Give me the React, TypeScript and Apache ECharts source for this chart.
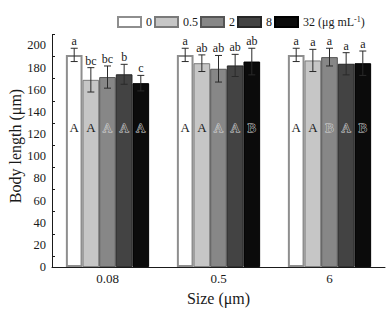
import React, { useEffect, useRef } from "react";
import * as echarts from "echarts";

const categories = ["0.08", "0.5", "6"];
const seriesNames = ["0", "0.5", "2", "8", "32"];

const mean0 = [191.5, 191.5, 191.5];
const mean05 = [169, 184, 186.5];
const mean2 = [171.5, 179, 189.5];
const mean8 = [174, 182, 183.5];
const mean32 = [166, 185.5, 184];

const err0 = [6, 6, 6];
const err05 = [11, 7.5, 10];
const err2 = [10, 12, 8];
const err8 = [9, 10, 10];
const err32 = [7, 12, 11];

const sig0 = ["a", "a", "a"];
const sig05 = ["bc", "ab", "a"];
const sig2 = ["bc", "ab", "a"];
const sig8 = ["b", "ab", "a"];
const sig32 = ["c", "ab", "a"];

const inner0 = ["A", "A", "A"];
const inner05 = ["A", "A", "A"];
const inner2 = ["A", "A", "B"];
const inner8 = ["A", "A", "A"];
const inner32 = ["A", "B", "B"];

const innerLevel = 126;

const yLabelValues = [0, 20, 40, 60, 80, 100, 120, 140, 160, 180, 200];
const yTickValues = [10, 30, 50, 70, 90, 110, 130, 150, 170, 190, 210];

const yTitle = "Body length (μm)";
const xTitle = "Size (μm)";

const means = [mean0, mean05, mean2, mean8, mean32];
const errs = [err0, err05, err2, err8, err32];
const sigs = [sig0, sig05, sig2, sig8, sig32];
const inners = [inner0, inner05, inner2, inner8, inner32];

const fills = ["#ffffff", "#c6c6c6", "#878787", "#434343", "#0b0b0b"];
const borders = ["#8e8e8e", "#7a7a7a", "#555555", "#262626", "#000000"];
const borderWidths = [2, 1, 1, 1, 1];

const FONT = "'Liberation Serif', 'Times New Roman', serif";
const INK = "#1a1a1a";
const CAT_GAP = 0.25;

export default function App() {
  const ref = useRef<HTMLDivElement>(null);

  useEffect(() => {
    if (!ref.current) return;
    const chart = echarts.init(ref.current, undefined, { renderer: "svg" });

    const barSeries = seriesNames.map((name, s) => ({
      name,
      type: "bar",
      data: means[s],
      barGap: "0%",
      barCategoryGap: CAT_GAP * 100 + "%",
      itemStyle: {
        color: fills[s],
        borderColor: borders[s],
        borderWidth: borderWidths[s],
      },
      z: 2,
    }));

    const customSeries = seriesNames.map((name, s) => ({
      type: "custom",
      name: "eb" + s,
      itemStyle: { color: INK },
      data: categories.map((c, i) => [i, means[s][i], errs[s][i]]),
      z: 5,
      renderItem: (params: any, api: any) => {
        const idx = api.value(0);
        const m = api.value(1);
        const e = api.value(2);
        const band = api.size([1, 0])[0];
        const barW = (band * (1 - CAT_GAP)) / 5;
        const c = api.coord([idx, m]);
        const x = c[0] + (s - 2) * barW;
        const top = api.coord([idx, m + e])[1];
        const bot = api.coord([idx, m - e])[1];
        const inY = api.coord([idx, innerLevel])[1];
        const cap = 3.5;
        const lineStyle = { stroke: "#2a2a2a", lineWidth: 1 };
        const light = s >= 2;
        return {
          type: "group",
          children: [
            { type: "line", shape: { x1: x, y1: top, x2: x, y2: bot }, style: lineStyle },
            { type: "line", shape: { x1: x - cap, y1: top, x2: x + cap, y2: top }, style: lineStyle },
            { type: "line", shape: { x1: x - cap, y1: bot, x2: x + cap, y2: bot }, style: lineStyle },
            {
              type: "text",
              x,
              y: top - 1,
              style: {
                text: sigs[s][params.dataIndex],
                fontFamily: FONT,
                fontSize: 12,
                fill: INK,
                align: "center",
                verticalAlign: "bottom",
              },
            },
            {
              type: "text",
              x,
              y: inY,
              style: {
                text: inners[s][params.dataIndex],
                fontFamily: FONT,
                fontSize: 13,
                fill: light ? fills[s] : INK,
                stroke: light ? "#d8d8d8" : undefined,
                lineWidth: light ? 0.8 : 0,
                align: "center",
                verticalAlign: "middle",
              },
            },
          ],
        };
      },
    }));

    chart.setOption({
      animation: false,
      backgroundColor: "#ffffff",
      textStyle: { fontFamily: FONT },
      grid: { left: 52, right: 7, top: 34.4, bottom: 40, containLabel: false },
      legend: {
        data: seriesNames,
        left: 112,
        top: 10,
        itemWidth: 23,
        itemHeight: 10,
        itemGap: 2,
        icon: "rect",
        selectedMode: false,
        formatter: (n: string) => (n === "32" ? "32 (μg mL{sup|-1})" : n),
        textStyle: {
          fontFamily: FONT,
          fontSize: 12,
          color: INK,
          rich: {
            sup: { fontFamily: FONT, fontSize: 8, padding: [0, 0, 6, 0], color: INK },
          },
        },
      },
      graphic: [
        {
          type: "text",
          x: 15,
          y: 146,
          rotation: Math.PI / 2,
          style: {
            text: yTitle,
            fontFamily: FONT,
            fontSize: 16,
            fill: INK,
            align: "center",
            verticalAlign: "middle",
          },
        },
      ],
      xAxis: {
        type: "category",
        data: categories,
        name: xTitle,
        nameLocation: "middle",
        nameGap: 19,
        nameTextStyle: { fontFamily: FONT, fontSize: 16, color: INK },
        axisLine: { lineStyle: { color: INK, width: 1 } },
        axisTick: { show: false },
        axisLabel: { fontFamily: FONT, fontSize: 13, color: INK, margin: 5 },
      },
      yAxis: {
        type: "value",
        min: 0,
        max: 210,
        interval: 10,
        axisLine: { show: true, lineStyle: { color: INK, width: 1 } },
        axisTick: { show: true, inside: true, length: 3, customValues: yTickValues, lineStyle: { color: INK } },
        axisLabel: { fontFamily: FONT, fontSize: 12.5, color: INK, margin: 6, customValues: yLabelValues },
        splitLine: { show: false },
      },
      series: [...barSeries, ...customSeries],
    });

    return () => chart.dispose();
  }, []);

  return <div ref={ref} style={{ width: 392, height: 311, position: "absolute", left: 0, top: 0 }} />;
}
